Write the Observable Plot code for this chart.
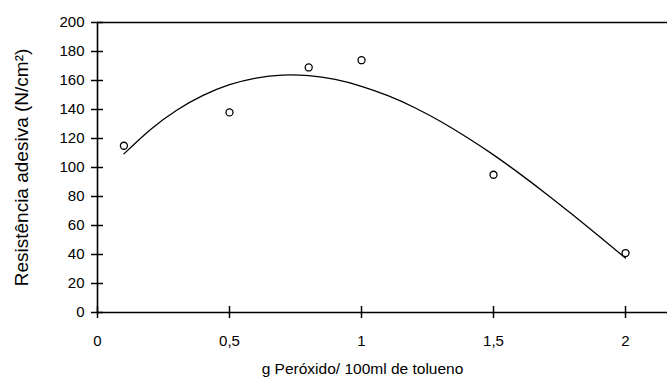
<!DOCTYPE html>
<html>
<head>
<meta charset="utf-8">
<script src="https://cdn.jsdelivr.net/npm/d3@7"></script>
<script src="https://cdn.jsdelivr.net/npm/@observablehq/plot@0.6"></script>
<style>
  html, body { margin: 0; padding: 0; background: #fff; }
</style>
</head>
<body>
<div id="chart"></div>
<script>
// Measured points
const peroxide = [0.1, 0.5, 0.8, 1.0, 1.5, 2.0];
const strength = [115, 138, 169, 174, 95, 41];

// Trend curve
const curveX = [0.1, 0.2, 0.3, 0.4, 0.5, 0.6, 0.7, 0.8, 0.9, 1.0, 1.1, 1.2, 1.3, 1.4, 1.5, 1.6, 1.7, 1.8, 1.9, 2.0];
const curveY = [109.4, 126.1, 139.5, 149.7, 157.1, 161.7, 163.7, 163.3, 160.7, 156.0, 149.5, 141.4, 131.7, 120.7, 108.7, 95.6, 81.8, 67.4, 52.6, 37.5];

// Axis ticks and labels
const xTicks = [0, 0.5, 1, 1.5, 2];
const yTicks = [0, 20, 40, 60, 80, 100, 120, 140, 160, 180, 200];
const xLabel = "g Peróxido/ 100ml de tolueno";
const yLabel = "Resistência adesiva (N/cm²)";

const points = peroxide.map((x, i) => ({x, y: strength[i]}));
const curve = curveX.map((x, i) => ({x, y: curveY[i]}));

const chart = Plot.plot({
  width: 667,
  height: 381,
  marginLeft: 97,
  marginRight: 0,
  marginTop: 22,
  marginBottom: 69,
  style: {fontFamily: "'Liberation Sans', Arial, sans-serif", fontSize: "15px", color: "#000", background: "#fff"},
  x: {domain: [0, 2.159], axis: null},
  y: {domain: [0, 200], axis: null},
  marks: [
    Plot.ruleY([200], {stroke: "#000", strokeWidth: 1.5}),
    // crossing tick marks
    Plot.ruleY(yTicks, {y: d => d, x1: 0, x2: 0, insetLeft: -6, insetRight: -6, stroke: "#000", strokeWidth: 1.5}),
    Plot.ruleX(xTicks, {x: d => d, y1: 0, y2: 0, insetTop: -6, insetBottom: -6, stroke: "#000", strokeWidth: 1.5}),
    Plot.ruleX([0], {stroke: "#000", strokeWidth: 1.6}),
    Plot.ruleY([0], {stroke: "#000", strokeWidth: 1.6}),
    Plot.axisY(yTicks, {tickSize: 0, tickPadding: 13, label: null, fill: "#000"}),
    Plot.axisX(xTicks, {tickSize: 0, tickPadding: 23, label: null, fill: "#000", tickFormat: d => String(d).replace(".", ",")}),
    Plot.line(curve, {x: "x", y: "y", curve: "natural", stroke: "#000", strokeWidth: 1.3}),
    Plot.dot(points, {x: "x", y: "y", r: 3.5, stroke: "#000", strokeWidth: 1.3, fill: "#fff"}),
    Plot.text([yLabel], {frameAnchor: "left", textAnchor: "middle", rotate: -90, dx: -76, fontSize: 19, fill: "#000"}),
    Plot.text([xLabel], {frameAnchor: "bottom", textAnchor: "middle", dx: -20, dy: 61, fontSize: 15.5, fill: "#000"})
  ]
});
document.getElementById("chart").appendChild(chart);
</script>
</body>
</html>
